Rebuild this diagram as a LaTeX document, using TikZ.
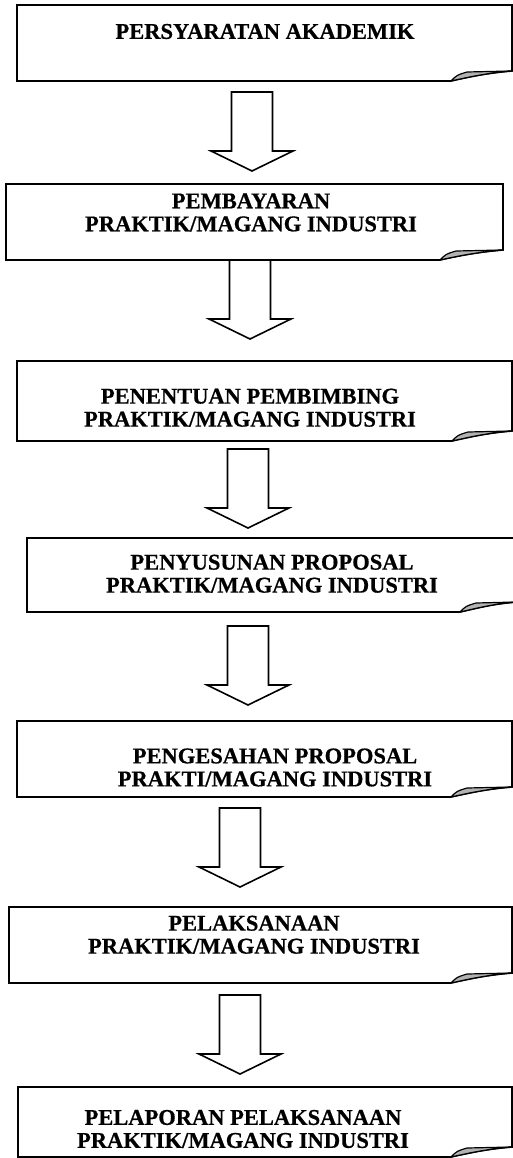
\documentclass[tikz,border=0pt]{standalone}
\usepackage{fontspec}
\setmainfont{Liberation Serif}[BoldFeatures={FakeBold=0.6}]
\usetikzlibrary{positioning}
\tikzset{
	boxline/.style={line width=1.6pt, line join=miter},
	foldfill/.style={fill=black!30, draw=black, line width=1.2pt},
	steptext/.style={font=\bfseries\fontsize{22.5}{23}\selectfont, align=center, inner sep=0pt},
	arrowline/.style={line width=1.6pt, fill=white},
	pics/blockdown/.style={code={
		\draw[arrowline] (-20.5,0) -- (-20.5,59) -- (-41,59) -- (0,79) -- (41,59) -- (20.5,59) -- (20.5,0) -- cycle;}}
}
\newcommand{\docbox}[5]{%
	\draw[boxline] (#3,#4-10) .. controls (#3-25,#4-8) and (#5+18,#4-4) .. (#5,#4) -- (#1,#4) -- (#1,#2) -- (#3,#2) -- cycle;
	\filldraw[foldfill] (#5,#4) .. controls (#5+6,#4-6) .. (#5+16,#4-9) -- (#3,#4-10) .. controls (#3-25,#4-8) and (#5+18,#4-4) .. (#5,#4) -- cycle;
}
\begin{document}
\begin{tikzpicture}[x=1pt, y=-1pt]
	\useasboundingbox (0,0) rectangle (513,1158);
	\docbox{17}{5}{512}{81}{451}
	\docbox{6}{184}{503}{260}{440}
	\docbox{17}{361}{512}{441}{452}
	\docbox{27}{538}{517}{612}{460}
	\docbox{17}{721}{512}{797}{451}
	\docbox{9}{907}{512}{983}{451}
	\docbox{18}{1087}{512}{1157}{451}
	\node[steptext] (syarat) at (265,31.5) {PERSYARATAN AKADEMIK};
	\node[steptext] (bayar) at (251,212.5) {PEMBAYARAN\\PRAKTIK/MAGANG INDUSTRI};
	\node[steptext] (bimbing) at (250,407.75) {PENENTUAN PEMBIMBING\\PRAKTIK/MAGANG INDUSTRI};
	\node[steptext] (susun) at (272,573.75) {PENYUSUNAN PROPOSAL\\PRAKTIK/MAGANG INDUSTRI};
	\node[steptext] (sah) at (275,767.5) {PENGESAHAN PROPOSAL\\PRAKTI/MAGANG INDUSTRI};
	\node[steptext] (laksana) at (254,934.75) {PELAKSANAAN\\PRAKTIK/MAGANG INDUSTRI};
	\node[steptext] (lapor) at (243,1129) {PELAPORAN PELAKSANAAN\\PRAKTIK/MAGANG INDUSTRI};
	\pic at (252,92) {blockdown};
	\pic at (250,260) {blockdown};
	\pic at (248,449) {blockdown};
	\pic at (248,626) {blockdown};
	\pic at (240,808) {blockdown};
	\pic at (240,995) {blockdown};
\end{tikzpicture}
\end{document}
